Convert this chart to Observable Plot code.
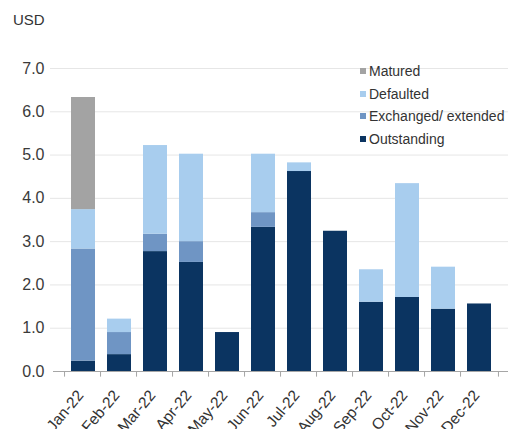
<!DOCTYPE html>
<html>
<head>
<meta charset="utf-8">
<script src="https://cdn.jsdelivr.net/npm/d3@7"></script>
<script src="https://cdn.jsdelivr.net/npm/@observablehq/plot@0.6"></script>
<style>
  html, body { margin: 0; padding: 0; background: #fff; }
  #wrap { position: relative; width: 525px; height: 429px; overflow: hidden; font-family: "Liberation Sans", Arial, sans-serif; }
  #unit { position: absolute; left: 13px; top: 11px; font-size: 15px; color: #333; }
  #legend { position: absolute; left: 360px; top: 60px; font-size: 14px; color: #333; line-height: 22.7px; }
  #legend .sw { display: inline-block; width: 6px; height: 6px; margin-right: 3px; vertical-align: 2px; }
</style>
</head>
<body>
<div id="wrap">
  <div id="chart"></div>
  <div id="unit">USD</div>
  <div id="legend"></div>
</div>
<script>
const months = ["Jan-22", "Feb-22", "Mar-22", "Apr-22", "May-22", "Jun-22",
                "Jul-22", "Aug-22", "Sep-22", "Oct-22", "Nov-22", "Dec-22"];
const outstanding = [0.24, 0.39, 2.77, 2.52, 0.90, 3.33, 4.62, 3.24, 1.60, 1.71, 1.44, 1.56];
const exchanged   = [2.59, 0.51, 0.40, 0.48, 0, 0.34, 0, 0, 0, 0, 0, 0];
const defaulted   = [0.91, 0.31, 2.05, 2.02, 0, 1.35, 0.20, 0, 0.75, 2.63, 0.97, 0];
const matured     = [2.59, 0, 0, 0, 0, 0, 0, 0, 0, 0, 0, 0];

const seriesNames = ["Outstanding", "Exchanged/ extended", "Defaulted", "Matured"];
const seriesColors = ["#0b3461", "#6f95c4", "#a8cdee", "#a3a3a3"];
const legendOrder = ["Matured", "Defaulted", "Exchanged/ extended", "Outstanding"];
const yTicks = [0, 1, 2, 3, 4, 5, 6, 7];

const seriesValues = [outstanding, exchanged, defaulted, matured];
const rows = [];
seriesNames.forEach((name, s) => {
  months.forEach((m, i) => rows.push({month: m, series: name, value: seriesValues[s][i]}));
});

const W = 525, H = 429, ML = 53, MR = 17;
const step = (W - ML - MR) / months.length;

const chart = Plot.plot({
  width: W,
  height: H,
  marginLeft: ML,
  marginRight: MR,
  marginTop: 68,
  marginBottom: 58,
  style: {fontFamily: "Liberation Sans, Arial, sans-serif", background: "#fff"},
  x: {domain: months, padding: 0.34, label: null},
  y: {domain: [0, 7], label: null},
  color: {domain: seriesNames, range: seriesColors},
  marks: [
    Plot.gridY(yTicks.filter(t => t > 0), {stroke: "#e6e6e6", strokeOpacity: 1, insetLeft: -3}),
    Plot.barY(rows, {x: "month", y: "value", fill: "series", order: seriesNames}),
    Plot.ruleY([0], {stroke: "#a6a6a6", strokeWidth: 1.2}),
    // tick marks at the band boundaries
    Plot.ruleX(months, {x: d => d, y1: 0, y2: -0.13, dx: -step / 2, stroke: "#a6a6a6"}),
    Plot.ruleX(months.slice(-1), {x: d => d, y1: 0, y2: -0.13, dx: step / 2, stroke: "#a6a6a6"}),
    Plot.axisY(yTicks, {tickSize: 0, tickPadding: 9, fontSize: 16, fill: "#3a3a3a",
                        tickFormat: d => d.toFixed(1)}),
    Plot.axisX({tickSize: 0, tickRotate: -50, fontSize: 15.5, fill: "#333",
                tickPadding: 4, dx: -3, dy: 17})
  ]
});
document.getElementById("chart").appendChild(chart);

const legend = document.getElementById("legend");
legendOrder.forEach(name => {
  const row = document.createElement("div");
  const sw = document.createElement("span");
  sw.className = "sw";
  sw.style.background = seriesColors[seriesNames.indexOf(name)];
  row.appendChild(sw);
  row.appendChild(document.createTextNode(name));
  legend.appendChild(row);
});
</script>
</body>
</html>
